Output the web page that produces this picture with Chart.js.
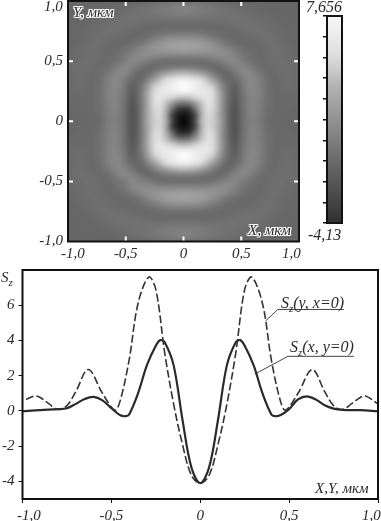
<!DOCTYPE html>
<html>
<head>
<meta charset="utf-8">
<title>Sz</title>
<script src="https://cdn.jsdelivr.net/npm/chart.js@4"></script>
<style>
  html, body { margin: 0; padding: 0; background: #fff; }
  body { position: relative; width: 381px; height: 521px; overflow: hidden; }
  canvas { position: absolute; }
  .txt { position: absolute; font: italic 15px "Liberation Serif", serif; color: #2a2a2a; white-space: nowrap; line-height: 16px; }
  .txt sub { font-size: 11px; line-height: 0; }
  .callout { font-size: 16px; }
  .halo { text-shadow: 1px 0 0 #fff, -1px 0 0 #fff, 0 1px 0 #fff, 0 -1px 0 #fff, 1px 1px 0 #fff, -1px -1px 0 #fff, 1px -1px 0 #fff, -1px 1px 0 #fff; }
</style>
</head>
<body>
<canvas id="heatChart" width="320" height="262" style="left:0;top:0"></canvas>
<canvas id="barChart" width="40" height="240" style="left:315px;top:0"></canvas>
<canvas id="lineChart" width="381" height="259" style="left:0;top:262px"></canvas>

<div class="txt" style="left:44px;top:-2px">1,0</div>
<div class="txt" style="left:61px;top:245px">-1,0</div>
<div class="txt" style="left:282px;top:245px">1,0</div>
<div class="txt" style="left:306px;top:-1px;font-size:16px">7,656</div>
<div class="txt" style="left:308px;top:227px;font-size:16px">-4,13</div>
<div class="txt halo" style="left:73px;top:4px">Y, мкм</div>
<div class="txt halo" style="left:248px;top:222px">X, мкм</div>

<div class="txt" style="left:1px;top:269px">S<sub>z</sub></div>
<div class="txt callout" style="left:281px;top:295px">S<sub>z</sub>(y, x=0)</div>
<div class="txt callout" style="left:290px;top:339px">S<sub>z</sub>(x, y=0)</div>
<div class="txt" style="left:315px;top:480px">X,Y, мкм</div>
<div class="txt" style="left:17px;top:507px">-1,0</div>
<div class="txt" style="left:362px;top:507px">1,0</div>

<script>
// map axis ticks
const mapTicks = [-1, -0.5, 0, 0.5, 1];
const mapTickLabels = ['-1,0', '-0,5', '0', '0,5', '1,0'];
const barTicks = [-4.13, -2.95, -1.77, -0.59, 0.58, 1.76, 2.94, 4.12, 5.30, 6.48, 7.656];
const barRange = [-4.13, 7.656];

// S_z, one quadrant, rows y = 0..1, columns x = 0..1, step 0.05
const gridStep = 0.05;
const szQuadrant = [
  [-4.1,-3.2,-.6,2.5,3.9,3.7,2.7,1,-.1,-.3,.08,.65,.83,.65,.32,.13,.06,.05,.04,.02,-.02],
  [-3.6,-2.9,-.9,2.3,4,3.8,2.6,.95,-.1,-.3,.1,.65,.85,.68,.35,.15,.07,.06,.05,.03,0],
  [-2,-1.5,.3,2.6,4.3,4.1,2.7,.95,-.1,-.3,.12,.68,.88,.72,.4,.18,.08,.08,.08,.05,.02],
  [.4,.7,1.8,3.2,4.8,4.5,2.8,.95,-.05,-.25,.16,.7,.9,.76,.42,.2,.08,.09,.1,.08,.05],
  [3.3,3.5,4,4.9,5.4,4.7,2.8,1,0,-.2,.2,.7,.92,.8,.45,.2,.08,.1,.12,.1,.08],
  [6.9,6.6,6,5.8,5.5,4.5,2.6,.9,.05,-.15,.3,.8,1,.85,.5,.2,.1,.14,.16,.14,.1],
  [7.6,7.2,6.4,5.6,4.6,3.4,2,.7,.05,-.05,.4,.9,1,.8,.45,.18,.1,.16,.2,.16,.1],
  [6.1,5.8,5.1,4.2,3.1,2,1,.25,0,.15,.55,.95,1,.75,.4,.16,.1,.18,.22,.18,.12],
  [2.9,2.8,2.5,2,1.4,.8,.25,.02,.15,.5,.9,1,.85,.55,.28,.12,.12,.2,.24,.2,.12],
  [.6,.6,.55,.45,.3,.12,.08,.3,.6,.85,1,.85,.55,.28,.15,.15,.2,.25,.25,.2,.12],
  [.2,.2,.2,.2,.28,.42,.6,.8,.95,1,.7,.5,.3,.18,.12,.18,.24,.26,.22,.15,.08],
  [1,1,1,1,1.05,1.1,1.2,1.2,1.1,.85,.55,.32,.18,.12,.14,.2,.25,.24,.16,.1,.05],
  [2.1,2.05,1.95,1.85,1.7,1.55,1.35,1.1,.8,.55,.32,.18,.12,.12,.16,.22,.26,.22,.14,.08,.04],
  [2.1,2.05,1.95,1.8,1.5,1.2,.85,.55,.32,.18,.1,.08,.1,.14,.2,.25,.22,.14,.1,.05,.02],
  [1.1,1.1,1.05,.95,.75,.55,.36,.22,.12,.08,.08,.12,.16,.22,.26,.26,.2,.12,.06,.03,.01],
  [.3,.3,.3,.28,.22,.16,.12,.08,.1,.14,.18,.24,.28,.3,.28,.22,.14,.08,.04,.02,0],
  [.08,.08,.1,.1,.1,.12,.14,.18,.24,.28,.32,.34,.32,.28,.22,.14,.08,.04,.02,.01,0],
  [.4,.4,.38,.36,.34,.32,.32,.34,.36,.36,.34,.3,.24,.18,.12,.08,.04,.02,.01,0,0],
  [.76,.74,.68,.62,.56,.5,.44,.4,.36,.3,.24,.18,.12,.08,.05,.03,.02,.01,0,0,0],
  [.8,.78,.7,.62,.54,.46,.38,.3,.24,.18,.12,.08,.05,.03,.02,.01,0,0,0,0,0],
  [.4,.38,.34,.3,.26,.2,.16,.12,.08,.06,.04,.02,.01,0,0,0,0,0,0,0,0]
];

// curves
const solidX = [-1,-.9,-.8,-.75,-.7,-.65,-.6,-.55,-.5,-.45,-.42,-.4,-.35,-.3,-.25,-.225,-.2,-.15,-.1,-.05,0,.05,.1,.15,.2,.225,.25,.3,.35,.4,.42,.45,.5,.55,.6,.65,.7,.75,.8,.9,1];
const solidY = [-.02,.05,.1,.15,.4,.68,.8,.6,.15,-.25,-.3,-.2,1,2.6,3.7,4.02,3.9,2.6,-.5,-3.2,-4.1,-3.2,-.5,2.6,3.9,4.02,3.7,2.6,1,-.2,-.3,-.25,.1,.65,.83,.65,.32,.13,.06,.04,-.02];
const dashedX = [-.98,-.93,-.9,-.85,-.8,-.75,-.7,-.63,-.55,-.48,-.45,-.4,-.35,-.29,-.25,-.2,-.15,-.1,-.05,0,.05,.1,.15,.2,.25,.29,.35,.4,.45,.48,.55,.63,.7,.75,.8,.85,.9,.93,1];
const dashedY = [.65,.85,.76,.4,.08,.3,1.1,2.35,1,.04,.6,2.9,6.1,7.6,6.9,3.3,.4,-1.9,-3.65,-4.1,-3.65,-1.9,.4,3.3,6.9,7.6,6.1,2.9,.6,.04,1,2.35,1.1,.3,.08,.4,.76,.85,.4];
const lineXTicks = [-1, -0.5, 0, 0.5, 1];
const lineXTickLabels = ['-1,0', '-0,5', '0', '0,5', '1,0'];
const lineYTicks = [-4, -2, 0, 2, 4, 6];
const lineYTickLabels = ['-4', '-2', '0', '2', '4', '6'];

// callouts to the two curves
const calloutDashedX = [.367, .436, .807];
const calloutDashedY = [5.1, 5.76, 5.76];
const calloutSolidX = [.307, .493, .864];
const calloutSolidY = [2.09, 3.1, 3.1];

// gray ramp of the map, value -> gray level
const rampValues = [-4.13, -2, -.3, 0, 1, 2.3, 4, 7.656];
const rampGrays = [6, 50, 84, 102, 135, 165, 214, 252];

const tickFont = { family: '"Liberation Serif", serif', style: 'italic', size: 15 };
const inkColor = '#2a2a2a';

const grayOf = (v) => {
  if (v <= rampValues[0]) return rampGrays[0];
  for (let i = 1; i < rampValues.length; i++) {
    if (v <= rampValues[i]) {
      const t = (v - rampValues[i - 1]) / (rampValues[i] - rampValues[i - 1]);
      return rampGrays[i - 1] + t * (rampGrays[i] - rampGrays[i - 1]);
    }
  }
  return rampGrays[rampGrays.length - 1];
};

// the quadrant repeated into the other three
const mapCells = [];
szQuadrant.forEach((row, iy) => {
  row.forEach((v, ix) => {
    [-1, 1].forEach((sy) => {
      [-1, 1].forEach((sx) => {
        if ((ix === 0 && sx < 0) || (iy === 0 && sy < 0)) return;
        mapCells.push({ x: sx * ix * gridStep, y: sy * iy * gridStep, v });
      });
    });
  });
});

const toPoints = (xs, ys) => xs.map((x, i) => ({ x, y: ys[i] }));

const framePlugin = {
  id: 'frame',
  afterDraw(chart) {
    const { ctx, chartArea: a } = chart;
    ctx.save();
    ctx.strokeStyle = '#111';
    ctx.lineWidth = 2;
    ctx.strokeRect(a.left, a.top, a.right - a.left, a.bottom - a.top);
    ctx.restore();
  }
};

const heatPlugin = {
  id: 'heat',
  beforeDatasetsDraw(chart) {
    const { ctx, chartArea: a, scales } = chart;
    const n = szQuadrant.length * 2 - 1;
    const off = document.createElement('canvas');
    off.width = n;
    off.height = n;
    const octx = off.getContext('2d');
    const img = octx.createImageData(n, n);
    chart.data.datasets[0].data.forEach((c) => {
      const col = Math.round((c.x + 1) / gridStep);
      const row = Math.round((1 - c.y) / gridStep);
      const p = (row * n + col) * 4;
      const g = grayOf(c.v);
      img.data[p] = img.data[p + 1] = img.data[p + 2] = g;
      img.data[p + 3] = 255;
    });
    octx.putImageData(img, 0, 0);
    const half = gridStep / 2;
    const x0 = scales.x.getPixelForValue(-1 - half);
    const x1 = scales.x.getPixelForValue(1 + half);
    const y0 = scales.y.getPixelForValue(1 + half);
    const y1 = scales.y.getPixelForValue(-1 - half);
    ctx.save();
    ctx.beginPath();
    ctx.rect(a.left, a.top, a.right - a.left, a.bottom - a.top);
    ctx.clip();
    ctx.imageSmoothingEnabled = true;
    ctx.imageSmoothingQuality = 'high';
    ctx.drawImage(off, x0, y0, x1 - x0, y1 - y0);
    ctx.restore();
  },
  afterDatasetsDraw(chart) {
    // white tick marks on the inside of all four sides
    const { ctx, chartArea: a, scales } = chart;
    ctx.save();
    ctx.strokeStyle = '#fff';
    ctx.lineWidth = 2;
    ctx.beginPath();
    mapTicks.slice(1, -1).forEach((t) => {
      const px = scales.x.getPixelForValue(t);
      const py = scales.y.getPixelForValue(t);
      ctx.moveTo(px, a.top); ctx.lineTo(px, a.top + 5);
      ctx.moveTo(px, a.bottom); ctx.lineTo(px, a.bottom - 5);
      ctx.moveTo(a.left, py); ctx.lineTo(a.left + 5, py);
      ctx.moveTo(a.right, py); ctx.lineTo(a.right - 5, py);
    });
    ctx.stroke();
    ctx.restore();
  }
};

const setTicks = (values) => (scale) => {
  scale.ticks = values.map((value) => ({ value }));
};

// fixed axis sizes so the plot areas land where they do in the figure
const fitAxis = (size) => (s) => {
  if (s.isHorizontal()) s.height = size; else s.width = size;
  s.paddingLeft = s.paddingRight = s.paddingTop = s.paddingBottom = 0;
};

new Chart(document.getElementById('heatChart'), {
  type: 'scatter',
  data: { datasets: [{ data: mapCells, pointRadius: 0, showLine: false }] },
  options: {
    responsive: false,
    animation: false,
    events: [],
    layout: { autoPadding: false, padding: { top: 1, right: 21, left: 0, bottom: 0 } },
    plugins: { legend: { display: false }, tooltip: { enabled: false } },
    scales: {
      x: {
        min: -1, max: 1,
        afterBuildTicks: setTicks(mapTicks),
        afterFit: fitAxis(20.5),
        grid: { display: false, drawTicks: false },
        border: { display: false },
        ticks: {
          autoSkip: false, maxRotation: 0, padding: 4, color: inkColor, font: tickFont,
          callback: (v, i) => (i === 0 || i === mapTicks.length - 1 ? '' : mapTickLabels[i])
        }
      },
      y: {
        min: -1, max: 1,
        afterBuildTicks: setTicks(mapTicks),
        afterFit: fitAxis(68),
        grid: { display: false, drawTicks: false },
        border: { display: false },
        ticks: {
          autoSkip: false, padding: 5, color: inkColor, font: tickFont,
          callback: (v, i) => (i === mapTicks.length - 1 ? '' : mapTickLabels[i])
        }
      }
    }
  },
  plugins: [heatPlugin, framePlugin]
});

new Chart(document.getElementById('barChart'), {
  type: 'bar',
  data: {
    labels: ['Sz'],
    datasets: [{
      data: [barRange],
      barPercentage: 1,
      categoryPercentage: 1,
      backgroundColor: (c) => {
        const area = c.chart.chartArea;
        if (!area) return '#888';
        const g = c.chart.ctx.createLinearGradient(0, area.top, 0, area.bottom);
        g.addColorStop(0, '#f8f8f8');
        g.addColorStop(0.2, '#dcdcdc');
        g.addColorStop(0.35, '#b0b0b0');
        g.addColorStop(0.65, '#747474');
        g.addColorStop(1, '#303030');
        return g;
      }
    }]
  },
  options: {
    responsive: false,
    animation: false,
    events: [],
    layout: { autoPadding: false, padding: { top: 16, right: 13, bottom: 17, left: 0 } },
    plugins: { legend: { display: false }, tooltip: { enabled: false } },
    scales: {
      x: { display: false },
      y: {
        min: barRange[0], max: barRange[1],
        afterBuildTicks: setTicks(barTicks),
        afterFit: fitAxis(12),
        grid: { drawOnChartArea: false, tickLength: 4, color: '#111', lineWidth: 1.5 },
        border: { display: false },
        ticks: { autoSkip: false, display: false }
      }
    }
  },
  plugins: [framePlugin]
});

new Chart(document.getElementById('lineChart'), {
  type: 'scatter',
  data: {
    datasets: [
      { data: toPoints(dashedX, dashedY), showLine: true, pointRadius: 0, borderColor: '#333', borderWidth: 1.6, borderDash: [8, 3], tension: 0.35 },
      { data: toPoints(solidX, solidY), showLine: true, pointRadius: 0, borderColor: '#2a2a2a', borderWidth: 2.2, tension: 0.35 },
      { data: toPoints(calloutDashedX, calloutDashedY), showLine: true, pointRadius: 0, borderColor: '#444', borderWidth: 1 },
      { data: toPoints(calloutSolidX, calloutSolidY), showLine: true, pointRadius: 0, borderColor: '#444', borderWidth: 1 }
    ]
  },
  options: {
    responsive: false,
    animation: false,
    events: [],
    layout: { autoPadding: false, padding: { top: 8, right: 3, left: 0, bottom: 0 } },
    plugins: { legend: { display: false }, tooltip: { enabled: false } },
    scales: {
      x: {
        min: -1, max: 1,
        afterBuildTicks: setTicks(lineXTicks),
        afterFit: fitAxis(22),
        grid: { drawOnChartArea: false, tickLength: 4, color: '#111' },
        border: { display: false },
        ticks: {
          autoSkip: false, maxRotation: 0, padding: 4, color: inkColor, font: tickFont,
          callback: (v, i) => (i === 0 || i === lineXTicks.length - 1 ? '' : lineXTickLabels[i])
        }
      },
      y: {
        min: -5, max: 8,
        afterBuildTicks: setTicks(lineYTicks),
        afterFit: fitAxis(22.5),
        grid: { drawOnChartArea: false, tickLength: 4, color: '#111' },
        border: { display: false },
        ticks: {
          autoSkip: false, padding: 4, color: inkColor, font: tickFont,
          callback: (v, i) => lineYTickLabels[i]
        }
      }
    }
  },
  plugins: [framePlugin]
});
</script>
</body>
</html>
